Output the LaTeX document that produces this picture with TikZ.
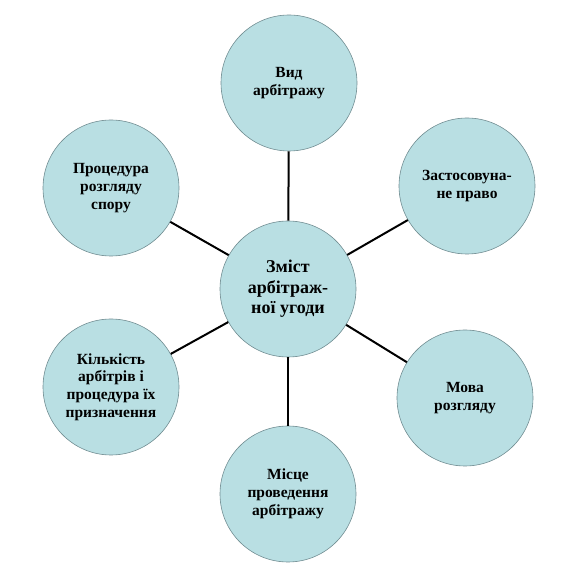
\documentclass[tikz,border=0pt]{standalone}
\usepackage{fontspec}
\setmainfont{Liberation Serif}
\definecolor{krugfill}{RGB}{185,223,227}
\definecolor{obvid}{RGB}{112,140,145}

\begin{document}
\begin{tikzpicture}[x=1pt, y=1pt,
        krug/.style={circle, draw=obvid, fill=krugfill, line width=0.6pt,
            minimum size=136pt, inner sep=0pt, align=center,
            font=\bfseries\fontsize{15.5}{17.8}\selectfont},
        zvyazok/.style={line width=2pt}]
        \useasboundingbox (0,0) rectangle (576,576);
        \node[krug, font=\bfseries\fontsize{18}{20.5}\selectfont] (zmist) at (288,287) {Зміст\\арбітраж-\\ної угоди};
        \node[krug] (vyd) at (289,493) {Вид\\арбітражу};
        \node[krug] (pravo) at (467,390) {Застосовуна-\\не право};
        \node[krug] (mova) at (465,178) {Мова\\розгляду};
        \node[krug] (misce) at (288,82) {Місце\\проведення\\арбітражу};
        \node[krug] (kilkist) at (111,189) {Кількість\\арбітрів і\\процедура їх\\призначення};
        \node[krug] (procedura) at (111,388) {Процедура\\розгляду\\спору};
        \foreach \n in {vyd, pravo, mova, misce, kilkist, procedura}
            \draw[zvyazok] (zmist) -- (\n);
    \end{tikzpicture}
\end{document}
